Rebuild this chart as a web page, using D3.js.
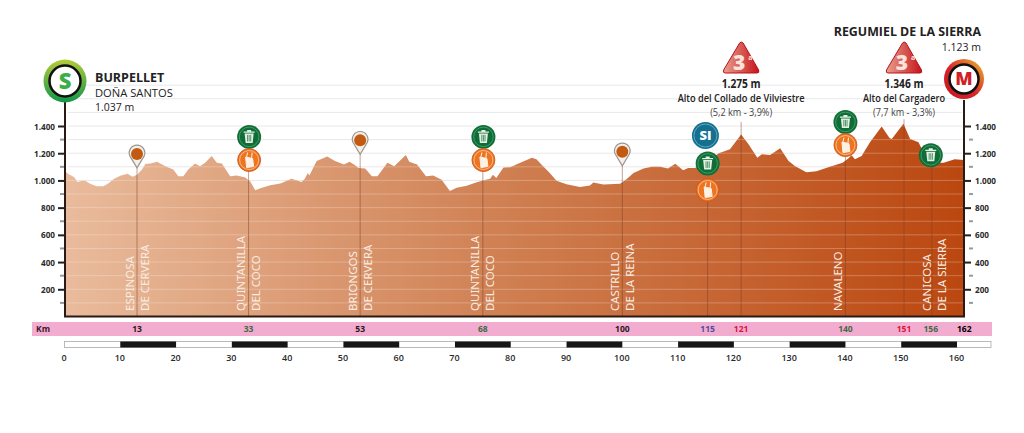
<!DOCTYPE html>
<html>
<head>
<meta charset="utf-8">
<script src="https://cdn.jsdelivr.net/npm/d3@7"></script>
<style>
  html, body { margin: 0; background: #fff; }
  text { font-family: "Open Sans", sans-serif; fill: #222; }
</style>
</head>
<body>
<div id="canvas"></div>
<script>
// -------------------------------------------- Data
const profileKm = [0, 0.3, 0.7, 1.3, 1.8, 2.3, 3.1, 3.7, 4.6, 5.8, 7, 7.9, 8.9, 10, 11.3, 12.2, 13, 13.9, 14.5, 15.4,
  16.6, 17.5, 18.6, 19.5, 20.4, 21.3, 22.2, 23.4, 24.3, 25.2, 26.4, 27.3, 28.2, 29.7, 30.9, 32.4, 33.3, 34.2, 35.1, 36.9,
  38.7, 40.7, 42.5, 43.1, 43.6, 43.9, 45.2, 47.1, 48.5, 50.1, 51.1, 52.1, 52.7, 53.9, 55.1, 56.1, 57.9, 59.1, 61.2, 61.8,
  63.2, 64.8, 66.1, 67.6, 69.1, 70.3, 72.1, 73.9, 75.7, 76.3, 76.8, 77.4, 78.7, 79.9, 81.7, 83.8, 84.6, 85.8, 87, 88.2,
  90, 92.4, 94.2, 94.8, 96.6, 99.6, 100.8, 102, 103.8, 105.3, 106.8, 108.2, 109.5, 110.9, 111.8, 113, 114.2, 117.3, 119.3, 121.3,
  122.6, 124.2, 125, 126.5, 128.3, 129.8, 131, 133, 134.8, 137.2, 139.5, 140.5, 141.1, 141.7, 142.9, 144.4, 146.5, 147.9, 148.3, 150.4,
  151.6, 153.1, 154, 155.5, 157.6, 159.6, 161.2];
const profileAlt = [1070, 1060, 1047, 1035, 1022, 988, 998, 998, 975, 958, 958, 980, 1012, 1035, 1050, 1027, 1042, 1080, 1120, 1125,
  1137, 1117, 1095, 1080, 1030, 1030, 1080, 1125, 1105, 1130, 1180, 1130, 1125, 1030, 1037, 1022, 992, 928, 942, 965,
  977, 1012, 988, 1012, 1055, 1037, 1142, 1175, 1142, 1117, 1137, 1112, 1092, 1087, 1030, 1030, 1130, 1105, 1187, 1137,
  1117, 1030, 1037, 1005, 922, 947, 960, 987, 1007, 1012, 1042, 1017, 1095, 1097, 1130, 1167, 1155, 1105, 1055, 997,
  972, 952, 962, 985, 970, 975, 1010, 1055, 1087, 1100, 1100, 1087, 1122, 1075, 1092, 1092, 1110, 1200, 1230, 1337,
  1267, 1167, 1192, 1187, 1237, 1142, 1105, 1060, 1067, 1100, 1130, 1162, 1185, 1155, 1180, 1280, 1397, 1312, 1305, 1417,
  1305, 1280, 1205, 1130, 1130, 1155, 1150];

const altTicks = [200, 400, 600, 800, 1000, 1200, 1400];
const altMinor = [100, 300, 500, 700, 900, 1100, 1300];
const gridAlts = [100, 200, 300, 400, 500, 600, 700, 800, 900, 1000, 1100, 1200, 1300, 1400, 1500, 1600, 1700];
const kmTicks = [0, 10, 20, 30, 40, 50, 60, 70, 80, 90, 100, 110, 120, 130, 140, 150, 160];

const placeKm = [13, 33, 53, 75, 100, 140, 156];
const placeLine1 = ["ESPINOSA", "QUINTANILLA", "BRIONGOS", "QUINTANILLA", "CASTRILLO", "NAVALENO", "CANICOSA"];
const placeLine2 = ["DE CERVERA", "DEL COCO", "DE CERVERA", "DEL COCO", "DE LA REINA", "", "DE LA SIERRA"];

const kmBandPos = [13, 33, 53, 75, 100, 115.3, 121.3, 140, 150.5, 155.3, 161.3];
const kmBandText = ["13", "33", "53", "68", "100", "115", "121", "140", "151", "156", "162"];
const kmBandColor = ["#2a1a1a", "#3f6b45", "#2a1a1a", "#3f6b45", "#2a1a1a", "#4a4f9c", "#d8173a", "#3f6b45", "#d8173a", "#3f6b45", "#000"];

const stemKm = [13, 33, 53, 75, 100, 115.3, 121.3, 140, 150.5, 155.5];
const stemTop = [1120, 1150, 1250, 1150, 1120, 950, 1430, 1250, 1450, 1150];

const pinKm = [13, 53, 100];
const pinAlt = [1195, 1295, 1210];
const wasteKm = [33.1, 75.1, 115.3, 140, 155.3];
const wasteAlt = [1320, 1320, 1125, 1430, 1185];
const bagKm = [33.1, 75.1, 115.3, 140];
const bagAlt = [1150, 1150, 930, 1260];

const climbKm = [121.3, 150.5];
const climbHeight = ["1.275 m", "1.346 m"];
const climbName = ["Alto del Collado de Vilviestre", "Alto del Cargadero"];
const climbInfo = ["(5,2 km - 3,9%)", "(7,7 km - 3,3%)"];

// -------------------------------------------- Dimensiones
const width = 1024;
const height = 433;

const x = d3.scaleLinear().domain([0, 160]).range([64.5, 957]);
const y = d3.scaleLinear().domain([0, 1400]).range([316.5, 126]);

const svg = d3.select("#canvas").append("svg").attr("width", width).attr("height", height).style("display", "block");
const defs = svg.append("defs");

const grad = defs.append("linearGradient").attr("id", "relief")
  .attr("gradientUnits", "userSpaceOnUse").attr("x1", 65).attr("x2", 964).attr("y1", 0).attr("y2", 0);
grad.append("stop").attr("offset", "0%").attr("stop-color", "#e9bb9c");
grad.append("stop").attr("offset", "50%").attr("stop-color", "#cf7e50");
grad.append("stop").attr("offset", "100%").attr("stop-color", "#bb4710");

const ringS = defs.append("linearGradient").attr("id", "ringS").attr("x1", 0).attr("y1", 0).attr("x2", 0).attr("y2", 1);
ringS.append("stop").attr("offset", "0%").attr("stop-color", "#b5cc3a");
ringS.append("stop").attr("offset", "100%").attr("stop-color", "#12964a");
const ringM = defs.append("linearGradient").attr("id", "ringM").attr("x1", 1).attr("y1", 0).attr("x2", 0).attr("y2", 1);
ringM.append("stop").attr("offset", "0%").attr("stop-color", "#eebc2d");
ringM.append("stop").attr("offset", "55%").attr("stop-color", "#d8232a");
ringM.append("stop").attr("offset", "100%").attr("stop-color", "#c3161f");
const triGrad = defs.append("linearGradient").attr("id", "tri").attr("x1", 0).attr("y1", 0).attr("x2", 1).attr("y2", 0);
triGrad.append("stop").attr("offset", "0%").attr("stop-color", "#e9a08c");
triGrad.append("stop").attr("offset", "100%").attr("stop-color", "#c5141c");

// -------------------------------------------- Rejilla + perfil
svg.append("g").selectAll("line").data(gridAlts).enter().append("line")
  .attr("x1", 68).attr("x2", 962)
  .attr("y1", (d) => y(d)).attr("y2", (d) => y(d))
  .attr("stroke", "#e8e8ea").attr("stroke-width", 1);

const area = d3.area().x((d) => x(d[0])).y0(y(0)).y1((d) => y(d[1])).curve(d3.curveLinear);
const profile = d3.zip(profileKm, profileAlt);
svg.append("path").datum(profile).attr("d", area).attr("fill", "url(#relief)");
defs.append("clipPath").attr("id", "reliefClip").append("path").datum(profile).attr("d", area);

// lineas claras sobre el relieve
svg.append("g").attr("clip-path", "url(#reliefClip)")
  .selectAll("line").data(gridAlts).enter().append("line")
  .attr("x1", 66).attr("x2", 963)
  .attr("y1", (d) => y(d)).attr("y2", (d) => y(d))
  .attr("stroke", "#fff").attr("stroke-opacity", 0.25).attr("stroke-width", 1);

// -------------------------------------------- Lineas de puerto / poblacion
svg.append("g").selectAll("line").data(d3.zip(stemKm, stemTop)).enter().append("line")
  .attr("x1", (d) => x(d[0])).attr("x2", (d) => x(d[0]))
  .attr("y1", y(0)).attr("y2", (d) => y(d[1]))
  .attr("stroke", "#7a3a22").attr("stroke-opacity", 0.6).attr("stroke-width", 0.8);

// -------------------------------------------- Nombres verticales
const places = svg.append("g").selectAll("g").data(d3.zip(placeKm, placeLine1, placeLine2)).enter().append("g")
  .attr("transform", (d) => `translate(${x(d[0])},311)`);
const placeText = (sel, dx, idx) => sel.append("text")
  .attr("transform", `translate(${dx},0) rotate(-90)`)
  .attr("dy", "0.35em")
  .style("font-size", "11.5px").style("fill", "#f8ece2")
  .style("font-family", "'Noto Sans', sans-serif")
  .text((d) => d[idx]);
placeText(places, -7.5, 1);
placeText(places, 7.5, 2);

// -------------------------------------------- Ejes de altitud
const fmtAlt = (d) => d3.format(",")(d).replace(",", ".");
const axisL = svg.append("g").attr("transform", "translate(65,0)")
  .call(d3.axisLeft(y).tickValues(altTicks).tickSize(7).tickFormat(fmtAlt));
const axisR = svg.append("g").attr("transform", "translate(964,0)")
  .call(d3.axisRight(y).tickValues(altTicks).tickSize(7).tickFormat(fmtAlt));
[axisL, axisR].forEach((a) => {
  a.select(".domain").remove();
  a.selectAll("line").attr("stroke", "#222").attr("stroke-width", 2);
  a.selectAll("text").style("font-size", "9.5px").style("font-weight", 700).style("fill", "#2a2a2a")
    .style("font-family", "'Open Sans', sans-serif")
    .attr("textLength", (d) => (d >= 1000 ? 21 : 14))
    .attr("lengthAdjust", "spacingAndGlyphs");
});
axisL.selectAll("text").attr("x", -10);
axisR.selectAll("text").attr("x", 11);

[60, 969].forEach((x0) => {
  svg.append("g").selectAll("line").data(altMinor).enter().append("line")
    .attr("x1", x0).attr("x2", x0 + 4)
    .attr("y1", (d) => y(d)).attr("y2", (d) => y(d))
    .attr("stroke", "#999").attr("stroke-width", 2);
});

svg.append("path")
  .attr("d", `M65,100V${y(0)}H964V100`)
  .attr("fill", "none").attr("stroke", "#2b1a14").attr("stroke-width", 2);

// -------------------------------------------- Banda de km
svg.append("rect").attr("x", 32).attr("y", 322).attr("width", 960).attr("height", 14).attr("fill", "#f2acd0");
svg.append("text").attr("x", 43).attr("y", 329).attr("dy", "0.35em").attr("text-anchor", "middle")
  .style("font-size", "8.5px").style("font-weight", 700).style("fill", "#3a1a2a").text("Km");
svg.append("g").selectAll("text").data(d3.zip(kmBandPos, kmBandText, kmBandColor)).enter().append("text")
  .attr("x", (d) => x(d[0])).attr("y", 329).attr("dy", "0.35em").attr("text-anchor", "middle")
  .style("font-size", "8.5px").style("font-weight", 700).style("fill", (d) => d[2]).text((d) => d[1]);

// -------------------------------------------- Escala de km
const scaleBar = svg.append("g");
scaleBar.append("rect").attr("x", 64.5).attr("y", 341.5).attr("width", 926.5).attr("height", 6)
  .attr("fill", "#fff").attr("stroke", "#aaa").attr("stroke-width", 0.8);
scaleBar.selectAll("rect.seg").data(kmTicks.slice(0, -1).filter((d) => d % 20 === 10)).enter().append("rect")
  .attr("class", "seg").attr("x", (d) => x(d)).attr("y", 341.5)
  .attr("width", x(10) - x(0)).attr("height", 6).attr("fill", "#161616");

const axisKm = svg.append("g").attr("transform", "translate(-1,348)")
  .call(d3.axisBottom(x).tickValues(kmTicks).tickSize(0).tickPadding(7));
axisKm.select(".domain").remove();
axisKm.selectAll("text").style("font-size", "9px").style("font-weight", 600).style("fill", "#2a2a2a")
  .style("font-family", "'Open Sans', sans-serif");

// -------------------------------------------- Iconos
const pins = svg.append("g").selectAll("g").data(d3.zip(pinKm, pinAlt)).enter().append("g")
  .attr("transform", (d) => `translate(${x(d[0])},${y(d[1])})`);
pins.append("path").attr("d", "M-7.2,2A7.8,7.8 0 1 1 7.2,2L0,14Z")
  .attr("fill", "#f4efea").attr("stroke", "#9c948d").attr("stroke-width", 1.2);
pins.append("circle").attr("r", 6).attr("fill", "#c25a12");

const wastes = svg.append("g").selectAll("g").data(d3.zip(wasteKm, wasteAlt)).enter().append("g")
  .attr("transform", (d) => `translate(${x(d[0])},${y(d[1])})`);
wastes.append("circle").attr("r", 12).attr("fill", "#0f6e38");
wastes.append("circle").attr("r", 9.8).attr("fill", "none").attr("stroke", "#4fa56f").attr("stroke-width", 0.8);
wastes.append("path").attr("d", "M-4.5,-3.5H4.5L3.5,6H-3.5ZM-5.5,-5.5H5.5V-4.2H-5.5ZM-2,-7H2V-5.5H-2Z").attr("fill", "#e6efe4");
wastes.append("path").attr("d", "M-1.6,-2V4.5M0,-2V4.5M1.6,-2V4.5").attr("stroke", "#0f6e38").attr("stroke-width", 0.7);

const bags = svg.append("g").selectAll("g").data(d3.zip(bagKm, bagAlt)).enter().append("g")
  .attr("transform", (d) => `translate(${x(d[0])},${y(d[1])})`);
bags.append("circle").attr("r", 11.5).attr("fill", "#ed7420").attr("stroke", "#c9551b").attr("stroke-width", 0.8);
bags.append("circle").attr("r", 9.5).attr("fill", "none").attr("stroke", "#fbd7b8").attr("stroke-width", 0.7);
bags.append("path").attr("d", "M-3.5,-3L3.5,-1.5L4.5,6.5L-2.5,7.5ZM-2.5,-3L-1.5,-7.5M2.5,-2L3,-7.5")
  .attr("fill", "#fdf1e4").attr("stroke", "#fdf1e4").attr("stroke-width", 1);

// sprint intermedio
const si = svg.append("g").attr("transform", `translate(${x(114.9)},${y(1330)})`);
si.append("circle").attr("r", 13.5).attr("fill", "#15708f");
si.append("circle").attr("r", 11.5).attr("fill", "none").attr("stroke", "#6db6cf").attr("stroke-width", 0.8);
si.append("text").attr("text-anchor", "middle").attr("dy", "0.36em")
  .style("font-size", "13px").style("font-weight", 800).style("fill", "#fff").text("SI");

// -------------------------------------------- Puertos
const climbs = svg.append("g").selectAll("g").data(d3.zip(climbKm, climbHeight, climbName, climbInfo)).enter().append("g")
  .attr("transform", (d) => `translate(${x(d[0])},0)`);
climbs.append("path").attr("d", "M-1.5,43Q0,41 2,43L17.5,70Q18.5,73 16,73H-16Q-18.5,73 -17.5,70Z")
  .attr("fill", "url(#tri)").attr("stroke", "#b8131b").attr("stroke-width", 1);
climbs.append("text").attr("x", -2).attr("y", 70).attr("text-anchor", "middle")
  .style("font-size", "21px").style("font-weight", 800).style("fill", "#fbe3dc").text("3");
climbs.append("text").attr("x", 7).attr("y", 60)
  .style("font-size", "7px").style("font-weight", 700).style("fill", "#fbe3dc").text("a");
climbs.append("text").attr("y", 87.5).attr("text-anchor", "middle")
  .style("font-size", "11.5px").style("font-weight", 700).attr("textLength", 39)
  .attr("lengthAdjust", "spacingAndGlyphs").text((d) => d[1]);
climbs.append("text").attr("y", 102).attr("text-anchor", "middle")
  .style("font-size", "10px").style("font-weight", 600).attr("textLength", (d) => (d[2].length > 20 ? 127 : 82))
  .attr("lengthAdjust", "spacingAndGlyphs").text((d) => d[2]);
climbs.append("text").attr("y", 116).attr("text-anchor", "middle")
  .style("font-size", "10px").style("fill", "#444").attr("textLength", 62)
  .attr("lengthAdjust", "spacingAndGlyphs").text((d) => d[3]);

// -------------------------------------------- Salida
const start = svg.append("g").attr("transform", "translate(65,81)");
start.append("circle").attr("r", 21.5).attr("fill", "url(#ringS)");
start.append("circle").attr("r", 15.5).attr("fill", "#fff").attr("stroke", "#111").attr("stroke-width", 2.5);
start.append("text").attr("text-anchor", "middle").attr("dy", "0.36em")
  .style("font-size", "22px").style("font-weight", 800).style("fill", "#3cae49").text("S");

svg.append("text").attr("x", 95).attr("y", 82).style("font-size", "12.5px").style("font-weight", 700).text("BURPELLET");
svg.append("text").attr("x", 95).attr("y", 97).style("font-size", "11.2px").text("DOÑA SANTOS");
svg.append("text").attr("x", 95).attr("y", 111).style("font-size", "10.5px").text("1.037 m");

// -------------------------------------------- Llegada
const finish = svg.append("g").attr("transform", "translate(964,79)");
finish.append("circle").attr("r", 20).attr("fill", "url(#ringM)");
finish.append("circle").attr("r", 14.5).attr("fill", "#fff").attr("stroke", "#111").attr("stroke-width", 2.5);
finish.append("text").attr("text-anchor", "middle").attr("dy", "0.36em")
  .style("font-size", "18px").style("font-weight", 800).style("fill", "#d01f26").text("M");

svg.append("text").attr("x", 981).attr("y", 36).attr("text-anchor", "end")
  .style("font-size", "12.4px").style("font-weight", 700).text("REGUMIEL DE LA SIERRA");
svg.append("text").attr("x", 981).attr("y", 51).attr("text-anchor", "end")
  .style("font-size", "10.5px").text("1.123 m");
</script>
</body>
</html>
